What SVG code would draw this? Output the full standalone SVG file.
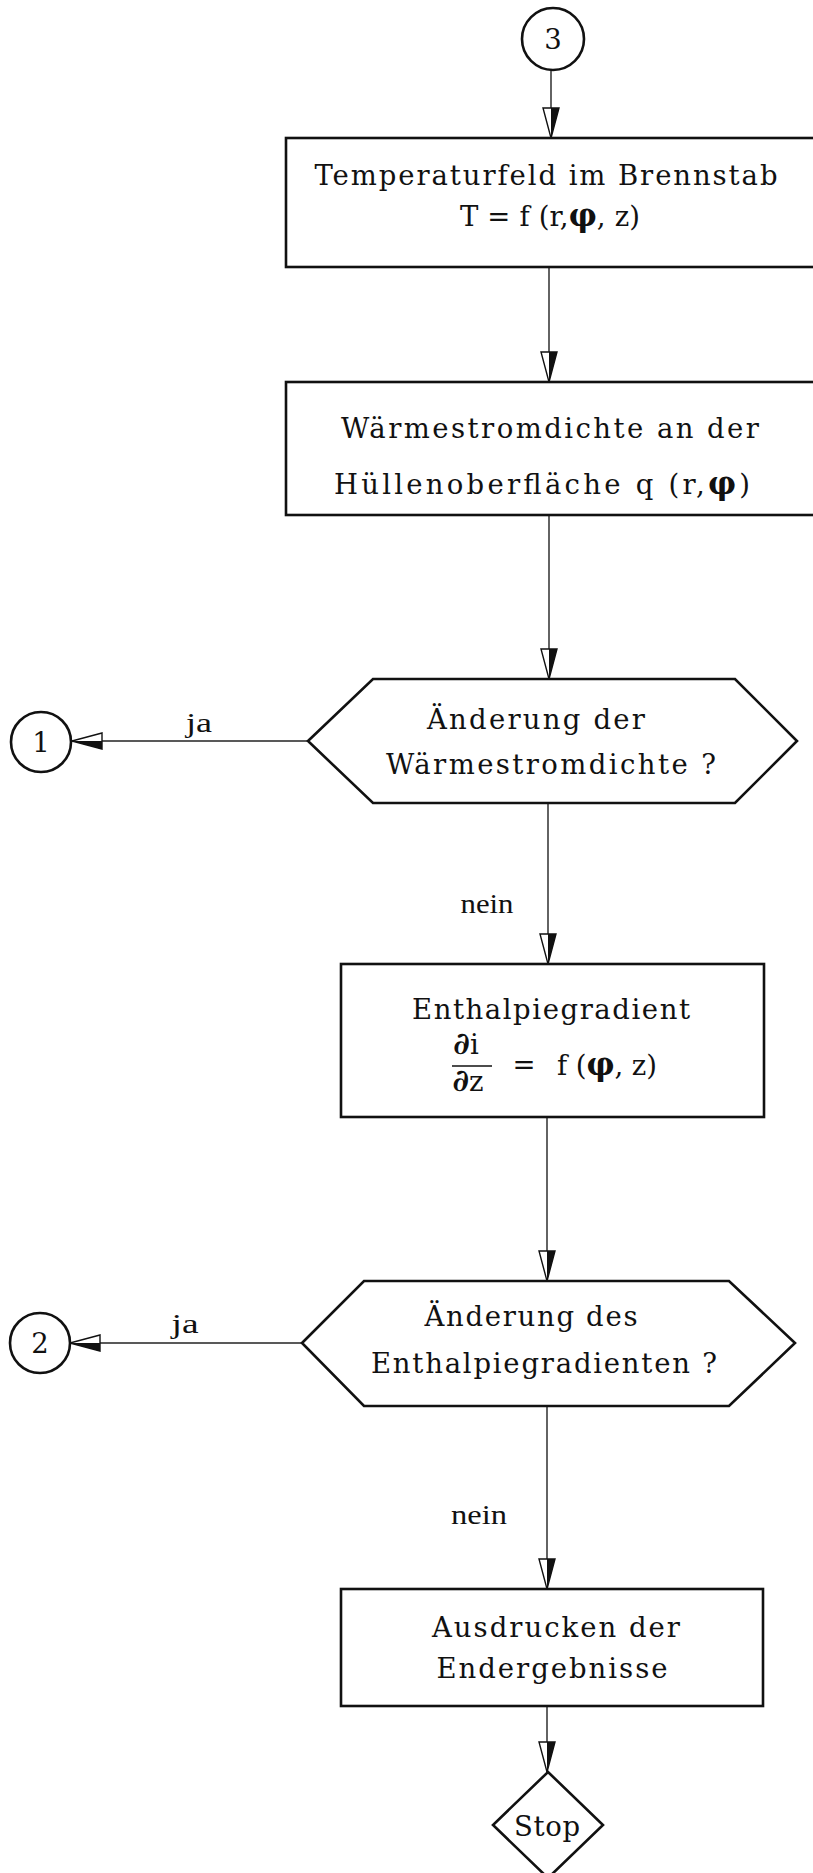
<svg xmlns="http://www.w3.org/2000/svg" width="813" height="1873" viewBox="0 0 813 1873">
<style>
.box{fill:#fff;stroke:#111;stroke-width:2.6}
.con{fill:none;stroke:#222;stroke-width:1.4}
.t{font-family:"DejaVu Serif","Liberation Serif",serif;font-size:27.5px;fill:#111;text-anchor:middle}
.lab{font-family:"Liberation Serif","DejaVu Serif",serif;font-size:27px;fill:#111;text-anchor:middle}
.phi{font-weight:bold;font-size:31px}
</style>
<defs>
<marker id="ah" markerUnits="userSpaceOnUse" markerWidth="34" markerHeight="20" viewBox="-32 -10 34 20" refX="0" refY="0" orient="auto">
<path d="M0,0 L-30,-8 L-30,8 Z" fill="#fff" stroke="#111" stroke-width="1.4"/>
<path d="M0,0 L-30,-8 L-30,0 Z" fill="#111"/>
</marker>
</defs>
<rect width="813" height="1873" fill="#fff"/>
<g id="connectors">
<line class="con" x1="551" y1="71" x2="551" y2="138" marker-end="url(#ah)"/>
<line class="con" x1="549" y1="267" x2="549" y2="382" marker-end="url(#ah)"/>
<line class="con" x1="549" y1="515" x2="549" y2="679" marker-end="url(#ah)"/>
<line class="con" x1="308" y1="741" x2="72" y2="741" marker-end="url(#ah)"/>
<text class="lab" x="199" y="732" textLength="26" lengthAdjust="spacingAndGlyphs">ja</text>
<line class="con" x1="548" y1="803" x2="548" y2="964" marker-end="url(#ah)"/>
<text class="lab" x="487" y="913" textLength="53" lengthAdjust="spacingAndGlyphs">nein</text>
<line class="con" x1="547" y1="1117" x2="547" y2="1281" marker-end="url(#ah)"/>
<line class="con" x1="302" y1="1343" x2="70" y2="1343" marker-end="url(#ah)"/>
<text class="lab" x="185" y="1333" textLength="27" lengthAdjust="spacingAndGlyphs">ja</text>
<line class="con" x1="547" y1="1406" x2="547" y2="1589" marker-end="url(#ah)"/>
<text class="lab" x="479" y="1524" textLength="56" lengthAdjust="spacingAndGlyphs">nein</text>
<line class="con" x1="547" y1="1706" x2="547" y2="1772" marker-end="url(#ah)"/>
</g>
<g id="conn3">
<circle class="box" cx="553" cy="39" r="31"/>
<text class="t" x="553" y="49" font-size="28">3</text>
</g>
<g id="box1">
<rect class="box" x="286" y="138" width="540" height="129"/>
<text class="t" x="546" y="185" textLength="463" lengthAdjust="spacing">Temperaturfeld im Brennstab</text>
<text class="t" x="550" y="226" textLength="180" lengthAdjust="spacing">T = f (r,<tspan class="phi">φ</tspan>, z)</text>
</g>
<g id="box2">
<rect class="box" x="286" y="382" width="540" height="133"/>
<text class="t" x="550" y="438" textLength="418" lengthAdjust="spacing">Wärmestromdichte an der</text>
<text class="t" x="542" y="494" textLength="416" lengthAdjust="spacing">Hüllenoberfläche q (r,<tspan class="phi">φ</tspan>)</text>
</g>
<g id="dec1">
<polygon class="box" points="308,741 373,679 735,679 797,741 735,803 373,803"/>
<text class="t" x="536" y="729" textLength="218" lengthAdjust="spacing">Änderung der</text>
<text class="t" x="551" y="774" textLength="330" lengthAdjust="spacing">Wärmestromdichte ?</text>
</g>
<g id="conn1">
<circle class="box" cx="41" cy="742" r="30"/>
<text class="t" x="41" y="752" font-size="28">1</text>
</g>
<g id="box3">
<rect class="box" x="341" y="964" width="423" height="153"/>
<text class="t" x="551" y="1019" textLength="278" lengthAdjust="spacing">Enthalpiegradient</text>
<text class="t" x="466" y="1054"><tspan font-weight="bold" font-size="31">∂</tspan>i</text>
<line x1="452" y1="1066" x2="492" y2="1066" stroke="#111" stroke-width="1.6"/>
<text class="t" x="468" y="1091"><tspan font-weight="bold" font-size="31">∂</tspan>z</text>
<text class="t" x="524" y="1074">=</text>
<text class="t" x="607" y="1075" textLength="100" lengthAdjust="spacing">f (<tspan class="phi">φ</tspan>, z)</text>
</g>
<g id="dec2">
<polygon class="box" points="302,1343 364,1281 729,1281 795,1343 729,1406 364,1406"/>
<text class="t" x="531" y="1326" textLength="213" lengthAdjust="spacing">Änderung des</text>
<text class="t" x="544" y="1373" textLength="346" lengthAdjust="spacing">Enthalpiegradienten ?</text>
</g>
<g id="conn2">
<circle class="box" cx="40" cy="1343" r="30"/>
<text class="t" x="40" y="1353" font-size="28">2</text>
</g>
<g id="box4">
<rect class="box" x="341" y="1589" width="422" height="117"/>
<text class="t" x="556" y="1637" textLength="248" lengthAdjust="spacing">Ausdrucken der</text>
<text class="t" x="552" y="1678" textLength="231" lengthAdjust="spacing">Endergebnisse</text>
</g>
<g id="stop">
<polygon class="box" points="548,1772 603,1825 548,1878 493,1825"/>
<text class="t" x="547" y="1836" font-size="28" textLength="66" lengthAdjust="spacing">Stop</text>
</g>
</svg>
